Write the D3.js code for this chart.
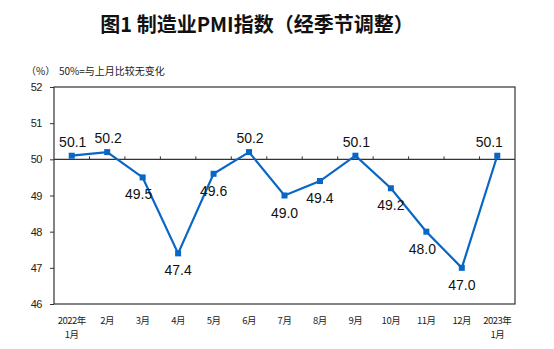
<!DOCTYPE html>
<html><head><meta charset="utf-8">
<script src="https://cdn.jsdelivr.net/npm/d3@7"></script>
<style>body{margin:0;background:#fff}svg{display:block}</style>
</head><body>
<svg id="c" width="554" height="349"></svg>
<script>
const categories = ["2022年|1月","2月","3月","4月","5月","6月","7月","8月","9月","10月","11月","12月","2023年|1月"];
const values = [50.1,50.2,49.5,47.4,49.6,50.2,49.0,49.4,50.1,49.2,48.0,47.0,50.1];
const labelPos = ["above","above","belowLeft","below","below","above","below","below","above","below","belowLeft","below","aboveLeft"];
const yTicks = [46,47,48,49,50,51,52];

(function(){
const svg = d3.select("#c");
const pl = 54, pr = 515, pt = 87, pb = 304;
const x = d3.scaleBand().domain(categories).range([pl, pr]).padding(0);
const y = d3.scaleLinear().domain([46, 52]).range([pb, pt]);
const color = "#0866c6";
const cjk = "'Noto Sans CJK SC', sans-serif";

svg.append("text").attr("x", 257).attr("y", 32).attr("text-anchor","middle")
  .attr("font-family", cjk).attr("font-weight","bold").attr("font-size", 20).attr("fill","#111")
  .text("图1 制造业PMI指数（经季节调整）");
svg.append("text").attr("x", 26).attr("y", 75).attr("font-family", cjk).attr("font-size", 10).attr("fill","#222")
  .text("（%）");
svg.append("text").attr("x", 59).attr("y", 75).attr("font-family", cjk).attr("font-size", 10).attr("fill","#222")
  .text("50%=与上月比较无变化");

svg.append("rect").attr("x", pl).attr("y", pt).attr("width", pr-pl).attr("height", pb-pt)
  .attr("fill","none").attr("stroke","#333").attr("stroke-width",1.2);

const yAxis = svg.append("g").attr("transform",`translate(${pl},0)`)
  .call(d3.axisLeft(y).tickValues(yTicks).tickSize(4).tickPadding(8).tickFormat(d3.format("d")));
yAxis.select(".domain").remove();
yAxis.selectAll("line").attr("stroke","#333");
yAxis.selectAll("text").attr("font-family","'Liberation Sans Narrow', 'Liberation Sans', sans-serif")
  .attr("font-size",11).attr("fill","#222").attr("letter-spacing",-0.5);

const xAxis = svg.append("g").attr("transform",`translate(0,${y(50)})`)
  .call(d3.axisTop(x).tickValues(categories.slice(1)).tickSize(3).tickFormat(""));
xAxis.select(".domain").attr("d", `M${pl},0H${pr}`).attr("stroke","#333").attr("stroke-width",1.2);
xAxis.selectAll(".tick line").attr("stroke","#333").attr("transform", `translate(${-x.bandwidth()/2},0)`);

const xl = svg.append("g");
categories.forEach(c => {
  const parts = c.split("|");
  const cx = x(c) + x.bandwidth()/2;
  parts.forEach((p, i) => {
    xl.append("text").attr("x", cx).attr("y", 324 + i*14)
      .attr("text-anchor","middle").attr("font-family", cjk).attr("font-size", 9.5).attr("letter-spacing",-0.5)
      .attr("fill","#222").text(p);
  });
});

const line = d3.line().x((d,i)=>x(categories[i])+x.bandwidth()/2).y(d=>y(d));
svg.append("path").datum(values).attr("d", line).attr("fill","none").attr("stroke",color).attr("stroke-width",2.2);
svg.selectAll("rect.m").data(values).enter().append("rect").attr("class","m")
  .attr("x",(d,i)=>x(categories[i])+x.bandwidth()/2-3).attr("y",d=>y(d)-3)
  .attr("width",6).attr("height",6).attr("fill",color);

const off = {above:[1,-9], below:[0,22], belowLeft:[-4,22], aboveLeft:[-8,-9]};
svg.selectAll("text.v").data(values).enter().append("text").attr("class","v")
  .attr("x",(d,i)=>x(categories[i])+x.bandwidth()/2+off[labelPos[i]][0])
  .attr("y",(d,i)=>y(d)+off[labelPos[i]][1])
  .attr("text-anchor","middle").attr("font-family","'Liberation Sans', Arial, sans-serif")
  .attr("font-size",14).attr("fill","#111").text(d=>d.toFixed(1));
})();
</script>
</body></html>
